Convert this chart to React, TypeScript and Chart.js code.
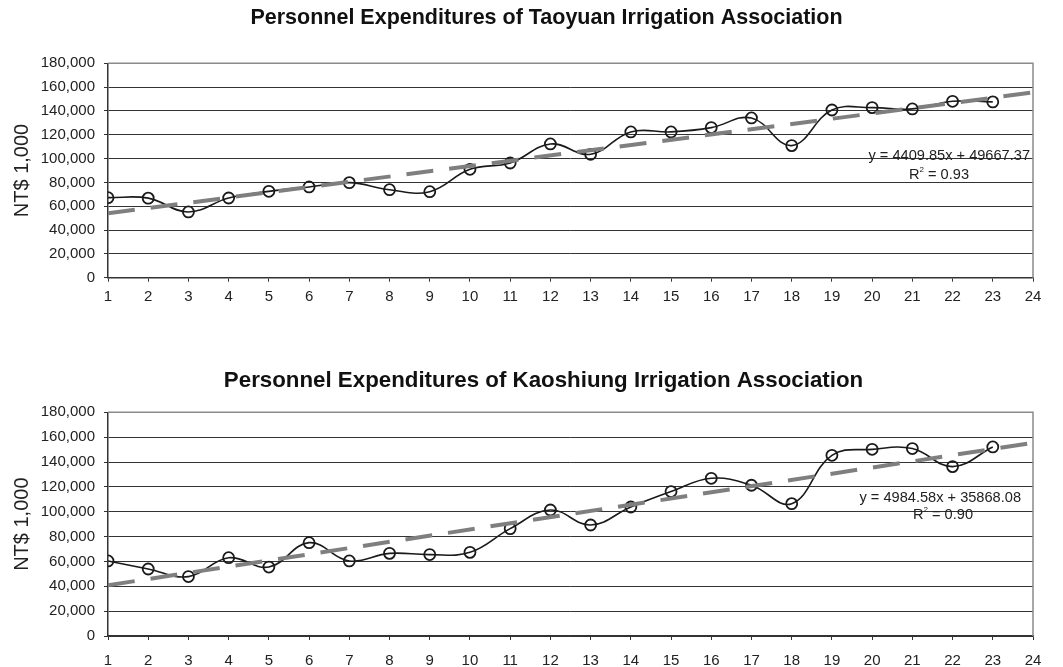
import React, { useEffect, useRef } from "react";
import { Chart, registerables } from "chart.js";

Chart.register(...registerables);

// ---- data ----
const periods = [1, 2, 3, 4, 5, 6, 7, 8, 9, 10, 11, 12, 13, 14, 15, 16, 17, 18, 19, 20, 21, 22, 23];
const taoyuanValues = [67200, 66800, 55200, 66900, 72500, 76200, 79800, 73900, 72200, 91000, 96300, 112300, 103600, 122400, 122400, 126000, 134100, 110900, 140800, 142800, 141700, 148100, 147600];
const kaoshiungValues = [60400, 53900, 47800, 63000, 55500, 75100, 60400, 66500, 65500, 67300, 86400, 101400, 89300, 103800, 116200, 126900, 121300, 106500, 145400, 150200, 150800, 136300, 152100];
const xAxisMin = 1;
const xAxisMax = 24;
const yAxisMax = 180000;
const yAxisStep = 20000;
const taoyuanTrend = { slope: 4409.85, intercept: 49667.37, r2: "0.93" };
const kaoshiungTrend = { slope: 4984.58, intercept: 35868.08, r2: "0.90" };
const taoyuanTitle = "Personnel Expenditures of Taoyuan Irrigation Association";
const kaoshiungTitle = "Personnel Expenditures of Kaoshiung Irrigation Association";
const yAxisTitle = "NT$ 1,000";

type PanelProps = {
  title: string;
  titleSize: number;
  titleY: number;
  titleX: number;
  values: number[];
  trend: { slope: number; intercept: number; r2: string };
  height: number;
  padTop: number;
  xAxisHeight: number;
  xLabelPad: number;
  eqValueY: number;
  r2ValueY: number;
  eqRightPx: number;
  r2CenterPx: number;
};

const FONT = "Arial, 'Liberation Sans', sans-serif";
const EQ_SIZE = 14.6;

function drawEquation(ctx: CanvasRenderingContext2D, text: string, right: number, y: number) {
  ctx.save();
  ctx.font = `${EQ_SIZE}px ${FONT}`;
  ctx.fillStyle = "#222";
  ctx.textAlign = "right";
  ctx.textBaseline = "middle";
  ctx.fillText(text, right, y);
  ctx.restore();
}

function drawR2(ctx: CanvasRenderingContext2D, r2: string, cx: number, y: number) {
  ctx.save();
  ctx.fillStyle = "#222";
  ctx.textBaseline = "middle";
  ctx.font = `${EQ_SIZE}px ${FONT}`;
  const wR = ctx.measureText("R").width;
  const rest = " = " + r2;
  const wRest = ctx.measureText(rest).width;
  ctx.font = `8px ${FONT}`;
  const wSup = ctx.measureText("2").width;
  const total = wR + wSup + wRest;
  let x = cx - total / 2;
  ctx.textAlign = "left";
  ctx.font = `${EQ_SIZE}px ${FONT}`;
  ctx.fillText("R", x, y);
  x += wR;
  ctx.font = `8px ${FONT}`;
  ctx.fillText("2", x, y - 5);
  x += wSup;
  ctx.font = `${EQ_SIZE}px ${FONT}`;
  ctx.fillText(rest, x, y);
  ctx.restore();
}

function ChartPanel(p: PanelProps) {
  const ref = useRef<HTMLCanvasElement | null>(null);
  useEffect(() => {
    if (!ref.current) return;
    const dataPoints = periods.map((x, i) => ({ x, y: p.values[i] }));
    const trendPoints = [xAxisMin, xAxisMax].map((x) => ({ x, y: p.trend.slope * x + p.trend.intercept }));
    const eqText = `y = ${p.trend.slope.toFixed(2)}x + ${p.trend.intercept.toFixed(2)}`;

    const framePlugin = {
      id: "frame",
      beforeDatasetsDraw(chart: any) {
        const { ctx, chartArea } = chart;
        ctx.save();
        ctx.strokeStyle = "#8a8a8a";
        ctx.lineWidth = 1.5;
        ctx.beginPath();
        ctx.moveTo(chartArea.left, chartArea.top);
        ctx.lineTo(chartArea.right, chartArea.top);
        ctx.lineTo(chartArea.right, chartArea.bottom);
        ctx.stroke();
        ctx.restore();
      },
      afterDraw(chart: any) {
        const { ctx } = chart;
        const ys = chart.scales.y;
        ctx.save();
        ctx.font = `bold ${p.titleSize}px ${FONT}`;
        ctx.fillStyle = "#111";
        ctx.textAlign = "center";
        ctx.textBaseline = "middle";
        ctx.fillText(p.title, p.titleX, p.titleY);
        ctx.restore();
        drawEquation(ctx, eqText, p.eqRightPx, ys.getPixelForValue(p.eqValueY));
        drawR2(ctx, p.trend.r2, p.r2CenterPx, ys.getPixelForValue(p.r2ValueY));
      },
    };

    const chart = new Chart(ref.current, {
      type: "line",
      data: {
        datasets: [
          {
            label: "trend",
            data: trendPoints,
            borderColor: "#7f7f7f",
            borderWidth: 4,
            borderDash: [27, 16],
            pointRadius: 0,
            tension: 0,
            fill: false,
          },
          {
            label: "values",
            data: dataPoints,
            borderColor: "#1a1a1a",
            borderWidth: 1.6,
            tension: 0.4,
            pointRadius: 5.5,
            pointBorderWidth: 1.8,
            pointBorderColor: "#1a1a1a",
            pointBackgroundColor: "rgba(255,255,255,0)",
            fill: false,
          },
        ],
      },
      options: {
        responsive: false,
        animation: false,
        layout: { padding: { left: 0, right: 30, top: p.padTop, bottom: 0 } },
        plugins: {
          legend: { display: false },
          tooltip: { enabled: false },
          title: { display: false },
        },
        scales: {
          x: {
            type: "linear",
            min: xAxisMin,
            max: xAxisMax,
            afterFit(scale: any) {
              scale.height = p.xAxisHeight;
            },
            ticks: {
              stepSize: 1,
              autoSkip: false,
              maxRotation: 0,
              padding: p.xLabelPad,
              color: "#222",
              font: { family: FONT, size: 15 },
            },
            grid: { drawOnChartArea: false, drawTicks: true, tickLength: 4, color: "#333", lineWidth: 1 },
            border: { display: true, color: "#333", width: 1.5 },
          },
          y: {
            min: 0,
            max: yAxisMax,
            afterFit(scale: any) {
              scale.width = 108;
            },
            ticks: {
              stepSize: yAxisStep,
              padding: 9,
              color: "#222",
              font: { family: FONT, size: 15 },
              callback: (v: any) => Number(v).toLocaleString("en-US"),
            },
            grid: { drawOnChartArea: true, tickLength: 4, color: "#333", lineWidth: 1 },
            border: { display: true, color: "#333", width: 1.5 },
            title: {
              display: true,
              text: yAxisTitle,
              color: "#222",
              font: { family: FONT, size: 20 },
              padding: { top: 10, bottom: 0 },
            },
          },
        },
      },
      plugins: [framePlugin],
    });
    return () => chart.destroy();
  }, []);
  return <canvas ref={ref} width={1063} height={p.height} style={{ display: "block", width: 1063, height: p.height }} />;
}

export default function App() {
  return (
    <div style={{ position: "absolute", left: 0, top: 0, width: 1063, height: 667, background: "#fff" }}>
      <ChartPanel
        title={taoyuanTitle}
        titleSize={21.5}
        titleY={18}
        titleX={546.5}
        values={taoyuanValues}
        trend={taoyuanTrend}
        height={330}
        padTop={63.3}
        xAxisHeight={52.3}
        xLabelPad={6}
        eqValueY={102200}
        r2ValueY={86200}
        eqRightPx={1030}
        r2CenterPx={939}
      />
      <ChartPanel
        title={kaoshiungTitle}
        titleSize={22.3}
        titleY={51}
        titleX={543.5}
        values={kaoshiungValues}
        trend={kaoshiungTrend}
        height={337}
        padTop={82.3}
        xAxisHeight={31}
        xLabelPad={12}
        eqValueY={111000}
        r2ValueY={97400}
        eqRightPx={1021}
        r2CenterPx={943}
      />
    </div>
  );
}
